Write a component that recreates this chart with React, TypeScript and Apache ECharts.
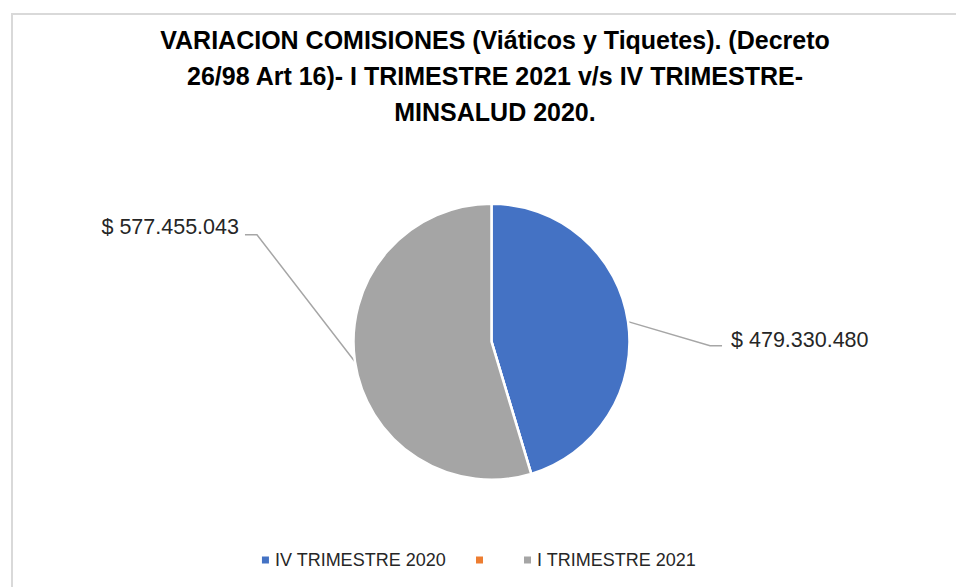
import React, { useEffect, useRef } from "react";
import * as echarts from "echarts";

const categories = ["IV TRIMESTRE 2020", " ", "I TRIMESTRE 2021"];
const values = [479330480, 0, 577455043];
const colors = ["#4472C4", "#ED7D31", "#A5A5A5"];
const titleLines = [
  "VARIACION COMISIONES (Viáticos y Tiquetes). (Decreto",
  "26/98 Art 16)- I TRIMESTRE 2021 v/s IV TRIMESTRE-",
  "MINSALUD 2020.",
];

const fmt = (v: number) =>
  "$ " + Math.round(v).toString().replace(/\B(?=(\d{3})+(?!\d))/g, ".");

export default function App() {
  const ref = useRef<HTMLDivElement>(null);
  useEffect(() => {
    document.body.style.margin = "0";
    const chart = echarts.init(ref.current!, null, { renderer: "svg" });
    const font = "'Liberation Sans', Arial, sans-serif";
    chart.setOption({
      animation: false,
      backgroundColor: "#fff",
      color: colors,
      graphic: [
        {
          type: "rect",
          shape: { x: 12, y: 14, width: 2000, height: 2000 },
          style: { fill: "none", stroke: "#d9d9d9", lineWidth: 2 },
          silent: true,
        },
      ],
      title: {
        text: titleLines.join("\n"),
        left: 490,
        textAlign: "center",
        top: 17,
        textStyle: {
          fontFamily: font,
          fontWeight: "bold",
          fontSize: 25,
          lineHeight: 36,
          color: "#000",
        },
      },
      legend: {
        bottom: 13,
        left: "center",
        icon: "rect",
        itemWidth: 9,
        itemHeight: 9,
        itemGap: 28,
        textStyle: { fontFamily: font, fontSize: 18, color: "#262626" },
        data: categories,
      },
      series: [
        {
          type: "pie",
          center: [491.5, 341.7],
          radius: 138,
          startAngle: 90,
          clockwise: true,
          stillShowZeroSum: true,
          itemStyle: { borderColor: "#fff", borderWidth: 2.5 },
          label: {
            show: true,
            position: "outside",
            formatter: (p: any) => fmt(p.value),
            fontFamily: font,
            fontSize: 21.5,
            color: "#262626",
          },
          labelLine: {
            show: true,
            length: 20,
            length2: 12,
            lineStyle: { color: "#a6a6a6", width: 1.5 },
          },
          labelLayout: (params: any) => {
            const pts = params.labelLinePoints;
            if (!pts) return {};
            const p0 = pts[0];
            if (params.dataIndex === 2) {
              const elbow = [p0[0] - 98, p0[1] - 127];
              const end = [elbow[0] - 12, elbow[1]];
              return {
                x: end[0] - 6,
                y: elbow[1] - 8,
                align: "right",
                verticalAlign: "middle",
                labelLinePoints: [p0, elbow, end],
              };
            }
            if (params.dataIndex === 0) {
              const elbow = [p0[0] + 82, p0[1] + 24];
              const end = [elbow[0] + 12, elbow[1]];
              return {
                x: end[0] + 9,
                y: elbow[1] - 6,
                align: "left",
                verticalAlign: "middle",
                labelLinePoints: [p0, elbow, end],
              };
            }
            return {};
          },
          data: categories.map((name, i) => ({
            name,
            value: values[i],
            ...(values[i] === 0
              ? { label: { show: false }, labelLine: { show: false } }
              : {}),
          })),
        },
      ],
    });
    return () => chart.dispose();
  }, []);
  return <div ref={ref} style={{ width: 956, height: 587 }} />;
}
